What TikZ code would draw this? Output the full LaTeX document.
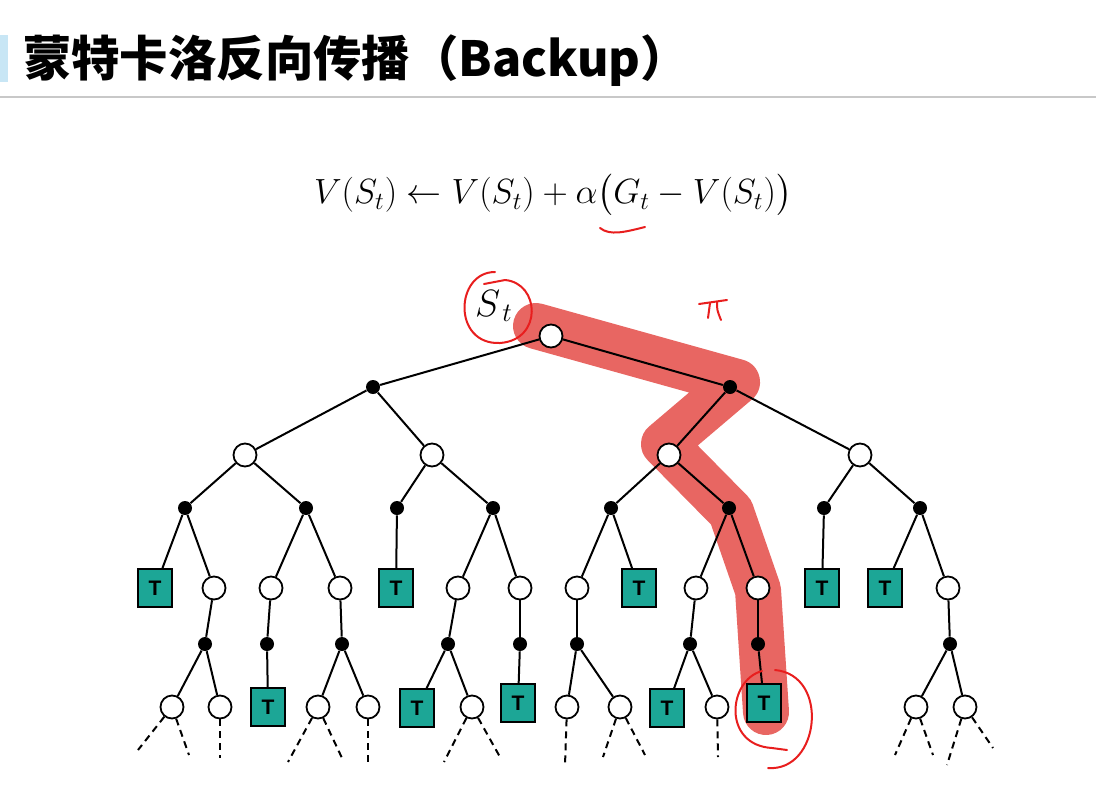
\RequirePackage{fix-cm}
\documentclass[tikz,border=0pt]{standalone}
\usepackage{amsmath}
\usepackage{fontspec}
\setsansfont{Liberation Sans}
\newfontfamily\cjk{Noto Sans CJK SC}
\usepackage{tikz}
\usetikzlibrary{calc}
\definecolor{tboxteal}{RGB}{28,166,150}
\definecolor{hlred}{RGB}{232,102,98}
\definecolor{penred}{RGB}{232,30,30}
\definecolor{barblue}{RGB}{200,230,245}
\definecolor{rulegray}{RGB}{200,200,200}
\tikzstyle{snode} = [draw, circle, fill=white, inner sep=0pt, minimum size=11.5pt, line width=0.9pt]
\tikzstyle{anode} = [circle, fill=black, inner sep=0pt, minimum size=7pt]
\tikzstyle{tnode} = [draw, fill=tboxteal, inner sep=0pt, minimum width=17pt, minimum height=19pt, line width=0.9pt, font=\sffamily\bfseries\fontsize{10.5}{12}\selectfont]
\tikzstyle{branch} = [line width=1pt]
\tikzstyle{leaf} = [line width=1pt, dash pattern=on 3.5pt off 2.5pt]
\tikzstyle{pen} = [line width=1pt, draw=penred, line cap=round, line join=round]

\begin{document}
\begin{tikzpicture}[x=0.5pt, y=-0.5pt]
			\useasboundingbox (0,0) rectangle (1096,787);
			
			% Title
			\fill[barblue] (0,35) rectangle (8,82);
			\node[anchor=west, font=\cjk\bfseries\fontsize{24.2}{28}\selectfont] (title) at (16,61) {蒙特卡洛反向传播（Backup）};
			\draw[rulegray, line width=1pt] (0,97) -- (1096,97);
			
			% Update rule
			\node[font=\fontsize{17.5}{20}\selectfont] (rule) at (553,195) {$V(S_t) \leftarrow V(S_t) + \alpha\bigl(G_t - V(S_t)\bigr)$};
			
			% Highlighted episode
			\draw[hlred, line width=23pt, line cap=round, line join=round] (536,326) -- (737,382) -- (664,444) -- (731,512) -- (758,590) -- (766,712);
			
			% Tree
			\node[snode] (root) at (551,336) {};
			\node[font=\fontsize{19}{22}\selectfont] (slabel) at (494,306) {$S_{\,t}$};
			
			\node[anode] (a1) at (373,387) {};
			\node[anode] (a2) at (730,387) {};
			
			\node[snode] (s1) at (245,455) {};
			\node[snode] (s2) at (432,455) {};
			\node[snode] (s3) at (669,455) {};
			\node[snode] (s4) at (860,455) {};
			
			\node[anode] (b1) at (185,508) {};
			\node[anode] (b2) at (306,508) {};
			\node[anode] (b3) at (397,508) {};
			\node[anode] (b4) at (493,508) {};
			\node[anode] (b5) at (611,508) {};
			\node[anode] (b6) at (729,508) {};
			\node[anode] (b7) at (824,508) {};
			\node[anode] (b8) at (920,508) {};
			
			\node[tnode] (t1) at (155,588) {T};
			\node[snode] (c1) at (214,588) {};
			\node[snode] (c2) at (271,588) {};
			\node[snode] (c3) at (340,588) {};
			\node[tnode] (t2) at (396,588) {T};
			\node[snode] (c4) at (458,588) {};
			\node[snode] (c5) at (520,588) {};
			\node[snode] (c6) at (577,588) {};
			\node[tnode] (t3) at (639,588) {T};
			\node[snode] (c7) at (696,588) {};
			\node[snode] (c8) at (758,588) {};
			\node[tnode] (t4) at (822,588) {T};
			\node[tnode] (t5) at (885,588) {T};
			\node[snode] (c9) at (948,588) {};
			
			\node[anode] (d1) at (205,644) {};
			\node[anode] (d2) at (267,644) {};
			\node[anode] (d3) at (342,644) {};
			\node[anode] (d4) at (448,644) {};
			\node[anode] (d5) at (520,644) {};
			\node[anode] (d6) at (577,644) {};
			\node[anode] (d7) at (690,644) {};
			\node[anode] (d8) at (758,644) {};
			\node[anode] (d9) at (950,644) {};
			
			\node[snode] (e1) at (172,707) {};
			\node[snode] (e2) at (220,707) {};
			\node[tnode] (t6) at (268,707) {T};
			\node[snode] (e3) at (318,707) {};
			\node[snode] (e4) at (368,707) {};
			\node[tnode] (t7) at (417,708) {T};
			\node[snode] (e5) at (472,707) {};
			\node[tnode] (t8) at (518,703) {T};
			\node[snode] (e6) at (567,707) {};
			\node[snode] (e7) at (620,707) {};
			\node[tnode] (t9) at (667,708) {T};
			\node[snode] (e8) at (717,707) {};
			\node[tnode] (t10) at (764,703) {T};
			\node[snode] (e9) at (916,707) {};
			\node[snode] (e10) at (965,707) {};
			
			\foreach \p/\c in {root/a1, root/a2, a1/s1, a1/s2, a2/s3, a2/s4,
				s1/b1, s1/b2, s2/b3, s2/b4, s3/b5, s3/b6, s4/b7, s4/b8,
				b1/t1, b1/c1, b2/c2, b2/c3, b3/t2, b4/c4, b4/c5, b5/c6, b5/t3,
				b6/c7, b6/c8, b7/t4, b8/t5, b8/c9,
				c1/d1, c2/d2, c3/d3, c4/d4, c5/d5, c6/d6, c7/d7, c8/d8, c9/d9,
				d1/e1, d1/e2, d2/t6, d3/e3, d3/e4, d4/t7, d4/e5, d5/t8,
				d6/e6, d6/e7, d7/t9, d7/e8, d8/t10, d9/e9, d9/e10}
				\draw[branch] (\p) -- (\c);
			
			% unexpanded subtrees
			\foreach \n/\dx/\dy in {e1/-34/43, e1/17/48, e2/0/51, e3/-30/55, e3/24/51, e4/0/57,
				e5/-28/55, e5/28/50, e6/-2/58, e7/-17/50, e7/25/48, e8/1/50,
				e9/-21/48, e9/17/48, e10/-18/58, e10/28/41}
				\draw[leaf] (\n) -- ++(\dx,\dy);
			
			% Pen marks
			\draw[pen] (600,228) .. controls (610,236) and (625,232) .. (645,227);
			\draw[pen] (495,272) .. controls (455,272) and (452,345) .. (500,343) .. controls (543,340) and (540,283) .. (505,280) -- (484,284);
			\draw[pen] (699,304) -- (727,300);
			\draw[pen] (710,303) -- (708,318);
			\draw[pen] (717,302) .. controls (717,310) .. (721,320);
			\draw[pen] (762,671) .. controls (728,680) and (722,745) .. (772,748) -- (787,750);
			\draw[pen] (775,670) .. controls (830,675) and (820,772) .. (768,768);
\end{tikzpicture}
\end{document}
